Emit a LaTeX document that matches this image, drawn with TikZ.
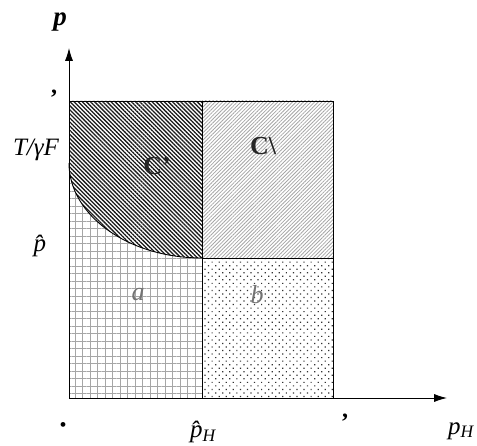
\documentclass[tikz,border=0pt]{standalone}
\usepackage{fontspec}
\setmainfont{Liberation Serif}
\usetikzlibrary{arrows.meta,patterns.meta,positioning}
\tikzset{
  axisarrow/.style={-{Latex[length=4.5mm,width=2.8mm]},line width=0.9pt},
  regionedge/.style={line width=0.9pt},
  darkhatch/.style={pattern={Lines[angle=-45,distance=2.9pt,line width=1.3pt]},pattern color=black!90},
  lighthatch/.style={pattern={Lines[angle=45,distance=2.6pt,line width=0.8pt]},pattern color=black!35},
  gridfill/.style={pattern={Hatch[angle=0,distance=7.5pt,line width=0.5pt]},pattern color=black!35},
  dotfill/.style={pattern={Dots[angle=45,distance=5pt,radius=0.85pt]},pattern color=black!80},
  ticklabel/.style={font=\fontsize{25}{28}\selectfont\itshape},
  regionlabel/.style={font=\fontsize{26}{28}\selectfont\itshape,text=black!55},
  caselabel/.style={font=\fontsize{26}{28}\selectfont\bfseries,text=black!85},
  marklabel/.style={font=\fontsize{24}{26}\selectfont\bfseries}
}
\begin{document}
\begin{tikzpicture}[x=1pt,y=1pt]
\useasboundingbox (0,0) rectangle (477,446);
\coordinate (O) at (69,48);
\coordinate (xend) at (447,48);
\coordinate (yend) at (69,398);
\coordinate (TL) at (69,345);
\coordinate (TM) at (202,345);
\coordinate (TR) at (333,345);
\coordinate (M) at (202,188);
\coordinate (MR) at (333,188);
\coordinate (BM) at (202,48);
\coordinate (BR) at (333,48);
\coordinate (K) at (69,283);

% regions
\fill[gridfill] (O) -- (K) arc[start angle=180,end angle=270,x radius=133,y radius=95] -- (BM) -- cycle;
\fill[darkhatch] (K) arc[start angle=180,end angle=270,x radius=133,y radius=95] -- (TM) -- (TL) -- cycle;
\fill[lighthatch] (TM) rectangle (MR);
\fill[dotfill] (M) rectangle (BR);

\draw[regionedge] (TL) rectangle (BR);
\draw[regionedge] (TM) -- (BM);
\draw[regionedge] (M) -- (MR);
\draw[regionedge] (K) arc[start angle=180,end angle=270,x radius=133,y radius=95];

\draw[axisarrow] (O) -- (xend);
\draw[axisarrow] (O) -- (yend);

% labels
\node[font=\fontsize{27}{30}\selectfont\bfseries\itshape] (plab) at (60,424) {p};
\node[ticklabel] (tgf) at (36,296) {T/γF};
\node[ticklabel] (phat) at (40,200) {\^p};
\node[ticklabel] (phatH) at (203,14) {\^p\textsubscript{H}};
\node[ticklabel] (pH) at (461,15) {p\textsubscript{H}};
\node[marklabel] (one1) at (54,352) {,};
\node[marklabel] (one2) at (345,28) {,};
\node[font=\fontsize{20}{22}\selectfont] (zero) at (63,19) {•};
\node[caselabel] (c1) at (157,280) {C'};
\node[caselabel] (c2) at (263,300) {C\textbackslash};
\node[regionlabel] (a) at (138,151) {a};
\node[regionlabel] (b) at (257,151) {b};
\end{tikzpicture}
\end{document}
